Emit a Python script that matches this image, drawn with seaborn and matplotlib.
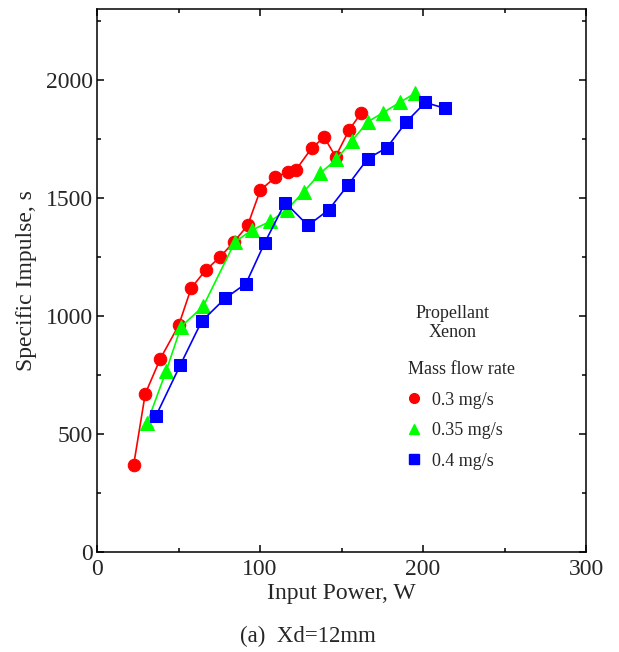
import matplotlib
matplotlib.use("Agg")
import matplotlib.pyplot as plt
from matplotlib.lines import Line2D
from matplotlib.ticker import MultipleLocator
import seaborn as sns
import pandas as pd

# ---- data ----
series_names = ["0.3 mg/s", "0.35 mg/s", "0.4 mg/s"]

power_03 = [22.5, 29.6, 38.8, 50.1, 57.8, 66.7, 75.4, 83.9, 92.4, 100.2, 109.4,
            117.2, 121.9, 131.9, 139.4, 146.4, 154.8, 162.2]
isp_03 = [369, 670, 818, 960, 1118, 1194, 1249, 1313, 1383, 1533, 1587,
          1611, 1617, 1713, 1756, 1675, 1789, 1861]

power_035 = [30.7, 42.5, 51.6, 65.1, 84.6, 95.1, 106.2, 116.5, 126.7, 136.9,
             146.8, 156.3, 166.1, 175.5, 185.7, 195.3]
isp_035 = [546, 768, 955, 1040, 1313, 1364, 1400, 1450, 1525, 1604,
           1663, 1741, 1822, 1861, 1904, 1944]

power_04 = [36.2, 51.1, 64.2, 78.7, 91.4, 102.9, 115.5, 129.4, 142.1, 153.8,
            166.1, 177.9, 189.8, 201.4, 213.7]
isp_04 = [577, 792, 977, 1075, 1137, 1310, 1480, 1383, 1449, 1553,
          1666, 1713, 1822, 1904, 1879]

colors = ["#ff0000", "#00ff00", "#0000ff"]
markers = ["o", "^", "s"]

frames = []
for name, xs, ys in zip(series_names, [power_03, power_035, power_04],
                        [isp_03, isp_035, isp_04]):
    frames.append(pd.DataFrame({"power": xs, "isp": ys, "rate": name,
                                "order": range(len(xs))}))
df = pd.concat(frames, ignore_index=True)

sns.set_style("white")
plt.rcParams["font.family"] = ["Liberation Serif", "DejaVu Serif"]
plt.rcParams["mathtext.fontset"] = "stix"

fig = plt.figure(figsize=(6.19, 6.52), dpi=100)
ax = fig.add_axes([97 / 619, 1 - 552 / 652, (586 - 97) / 619, (552 - 9) / 652])

for name, c, m in zip(series_names, colors, markers):
    sub = df[df["rate"] == name]
    sns.lineplot(data=sub, x="power", y="isp", sort=False, estimator=None,
                 color=c, marker=m, markersize=9 if m != "^" else 10,
                 markeredgecolor=c, linewidth=1.2, ax=ax, legend=False)

ax.set_xlim(0, 300)
ax.set_ylim(0, 2300)
ax.xaxis.set_major_locator(MultipleLocator(100))
ax.xaxis.set_minor_locator(MultipleLocator(50))
ax.yaxis.set_major_locator(MultipleLocator(500))
ax.yaxis.set_minor_locator(MultipleLocator(250))
ax.tick_params(which="both", direction="in", top=True, right=True,
               bottom=True, left=True, color="black", width=1.1)
ax.tick_params(which="major", length=5, labelsize=17)
ax.tick_params(which="minor", length=3)
ax.tick_params(axis="x", which="major", pad=5)
ax.tick_params(axis="y", which="major", pad=3)
for sp in ax.spines.values():
    sp.set_color("black")
    sp.set_linewidth(1.1)

ax.set_xlabel("Input Power, W", fontsize=17, labelpad=2)
ax.set_ylabel("Specific Impulse, s", fontsize=17, labelpad=6)

# legend annotations
fig.text(453 / 619, 1 - 323 / 652, "Propellant\nXenon", ha="center",
         va="center", fontsize=13, linespacing=1.1)

handles = [Line2D([], [], linestyle="none", marker=m, color=c, markersize=7)
           for c, m in zip(colors, markers)]
leg = ax.legend(handles, series_names, title="Mass flow rate",
                loc="upper left", bbox_to_anchor=(399 / 619, 1 - 352 / 652),
                bbox_transform=fig.transFigure, frameon=False, fontsize=13,
                title_fontsize=13, handlelength=0.7, handletextpad=0.6,
                labelspacing=0.75, borderpad=0, alignment="left")

fig.text(308 / 619, 1 - 636 / 652, "(a)  Xd=12mm", ha="center", va="center",
         fontsize=16.5)

fig.savefig("out.png", dpi=100)
